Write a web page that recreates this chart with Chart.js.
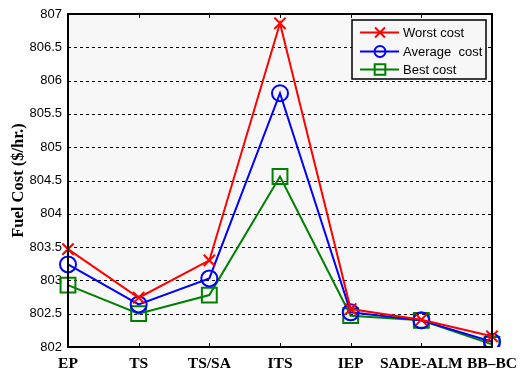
<!DOCTYPE html>
<html>
<head>
<meta charset="utf-8">
<script src="https://cdn.jsdelivr.net/npm/chart.js@4/dist/chart.umd.min.js"></script>
<style>
  html, body { margin: 0; padding: 0; background: #ffffff; }
  #wrap { width: 528px; height: 374px; position: relative; }
</style>
</head>
<body>
<div id="wrap"><canvas id="c" width="528" height="374"></canvas></div>
<script>
// Algorithms compared
const methods = ['EP', 'TS', 'TS/SA', 'ITS', 'IEP', 'SADE-ALM', 'BB\u2013BC'];
// Fuel cost results ($/hr.)
const worstCost   = [803.47, 802.74, 803.30, 806.86, 802.57, 802.41, 802.16];
const averageCost = [803.24, 802.64, 803.03, 805.81, 802.52, 802.40, 802.08];
const bestCost    = [802.93, 802.50, 802.78, 804.56, 802.47, 802.40, 802.04];
// Value axis
const yMin = 802, yMax = 807, yStep = 0.5;

// Plot background, dashed grid, frame, inward ticks and legend box
const framePlugin = {
  id: 'frame',
  beforeDraw(chart) {
    const { ctx, chartArea: a } = chart;
    ctx.save();
    ctx.fillStyle = '#f7f7f7';
    ctx.fillRect(a.left, a.top, a.right - a.left, a.bottom - a.top);
    ctx.restore();
  },
  beforeDatasetsDraw(chart) {
    const { ctx, chartArea: a, scales } = chart;
    ctx.save();
    ctx.strokeStyle = '#000';
    ctx.lineWidth = 1;
    ctx.setLineDash([3, 3]);
    for (let v = yMin + yStep; v < yMax - 1e-9; v += yStep) {
      const y = Math.round(scales.y.getPixelForValue(v)) + 0.5;
      ctx.beginPath();
      ctx.moveTo(a.left, y);
      ctx.lineTo(a.right, y);
      ctx.stroke();
    }
    ctx.restore();
  },
  afterDatasetsDraw(chart) {
    const { ctx, chartArea: a, scales } = chart;
    ctx.save();
    ctx.strokeStyle = '#000';
    ctx.lineWidth = 1;
    // inward ticks on the category axis
    methods.forEach((m, i) => {
      const x = Math.round(scales.x.getPixelForValue(i)) + 0.5;
      ctx.beginPath();
      ctx.moveTo(x, a.bottom); ctx.lineTo(x, a.bottom - 4);
      ctx.moveTo(x, a.top); ctx.lineTo(x, a.top + 4);
      ctx.stroke();
    });
    ctx.lineWidth = 2;
    ctx.strokeRect(a.left, a.top, a.right - a.left, a.bottom - a.top);

    // legend
    const lx = 352, ly = 20, lw = 134, lh = 59;
    ctx.fillStyle = '#f7f7f7';
    ctx.fillRect(lx, ly, lw, lh);
    ctx.lineWidth = 1.5;
    ctx.strokeStyle = '#000';
    ctx.strokeRect(lx, ly, lw, lh);
    const rows = [32, 51, 69];
    chart.data.datasets.forEach((ds, i) => {
      const y = rows[i] + 0.5;
      ctx.strokeStyle = ds.borderColor;
      ctx.lineWidth = 2;
      ctx.beginPath();
      ctx.moveTo(360, y); ctx.lineTo(399, y);
      ctx.stroke();
      ctx.fillStyle = 'rgba(0,0,0,0)';
      Chart.helpers.drawPoint(ctx, {
        pointStyle: ds.pointStyle,
        radius: ds.legendRadius,
        borderWidth: 2
      }, 380, y);
      ctx.fillStyle = '#000';
      ctx.font = '13px "Liberation Sans", Arial, sans-serif';
      ctx.textBaseline = 'middle';
      ctx.textAlign = 'left';
      ctx.fillText(ds.label, 403, y + 1);
    });
    ctx.restore();
  }
};

const mk = (label, data, color, style, r, lr) => ({
  label, data,
  borderColor: color,
  backgroundColor: 'rgba(0,0,0,0)',
  pointBorderColor: color,
  pointBackgroundColor: 'rgba(0,0,0,0)',
  pointStyle: style,
  pointRadius: r,
  pointHoverRadius: r,
  pointBorderWidth: 2,
  borderWidth: 2,
  tension: 0,
  legendRadius: lr
});

new Chart(document.getElementById('c'), {
  type: 'line',
  data: {
    labels: methods,
    datasets: [
      mk('Worst cost', worstCost, '#ff0000', 'crossRot', 8, 7),
      mk('Average  cost', averageCost, '#0000ff', 'circle', 8, 5.5),
      mk('Best cost', bestCost, '#008000', 'rect', 10.5, 7.5)
    ]
  },
  options: {
    responsive: false,
    animation: false,
    events: [],
    layout: { padding: { top: 14, right: 36, bottom: 0, left: 0 } },
    plugins: { legend: { display: false }, tooltip: { enabled: false } },
    scales: {
      x: {
        type: 'category',
        offset: false,
        grid: { display: false, drawTicks: false },
        border: { display: false },
        ticks: {
          color: '#000',
          padding: 8,
          maxRotation: 0,
          autoSkip: false,
          font: { family: '"Liberation Serif", "Times New Roman", serif', size: 15.5, weight: 'bold' }
        },
        afterFit(s) { s.height = 27; }
      },
      y: {
        min: yMin, max: yMax,
        grid: { display: false, drawTicks: false },
        border: { display: false },
        ticks: {
          stepSize: yStep,
          color: '#000',
          padding: 6,
          callback: (v) => String(Math.round(v * 10) / 10),
          font: { family: '"Liberation Sans", Arial, sans-serif', size: 13 }
        },
        title: {
          display: true,
          text: 'Fuel Cost ($/hr.)',
          color: '#000',
          padding: { top: 9, bottom: 0 },
          font: { family: '"Liberation Serif", "Times New Roman", serif', size: 16.5, weight: 'bold' }
        },
        afterFit(s) { s.width = 68; }
      }
    }
  },
  plugins: [framePlugin]
});
</script>
</body>
</html>
